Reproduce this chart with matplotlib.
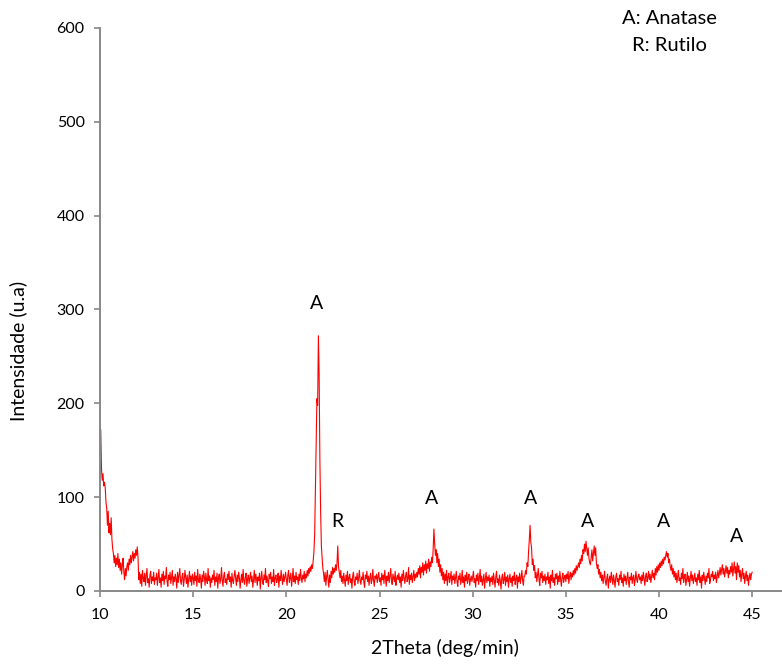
import matplotlib
matplotlib.use('Agg')
import matplotlib.pyplot as plt
import numpy as np

plt.rcParams['font.family'] = ['Lato', 'DejaVu Sans']

# XRD scan, 2theta from 10 to 45 deg, step 0.04 (one row per degree)
start_2theta = 10.0
step_2theta = 0.04
intensity = [
    148, 172, 130, 118, 125, 112, 116, 110, 95, 88, 70, 85, 62, 72, 60, 78, 55, 45, 40, 30, 38, 26, 35, 28, 40,
    25, 34, 22, 30, 18, 28, 35, 20, 12, 24, 16, 26, 30, 22, 34, 28, 38, 30, 36, 42, 32, 40, 35, 44, 38,
    47, 36, 12, 20, 8, 18, 5, 22, 14, 10, 19, 6, 16, 24, 9, 13, 4, 17, 21, 8, 15, 11, 20, 7, 14,
    12, 19, 6, 15, 23, 9, 14, 4, 18, 11, 21, 7, 16, 13, 25, 10, 5, 17, 12, 20, 8, 14, 22, 6, 15,
    10, 18, 13, 3, 20, 9, 16, 24, 11, 7, 15, 19, 5, 12, 22, 14, 8, 17, 4, 13, 21, 10, 16, 6, 18,
    14, 7, 20, 11, 16, 5, 23, 12, 9, 18, 13, 3, 17, 10, 21, 15, 6, 19, 12, 8, 24, 11, 16, 4, 14,
    9, 17, 12, 22, 6, 15, 10, 19, 3, 14, 18, 8, 13, 25, 11, 5, 16, 20, 9, 13, 7, 18, 12, 21, 10,
    15, 4, 19, 11, 8, 16, 22, 13, 6, 17, 10, 20, 14, 3, 12, 18, 9, 23, 11, 7, 15, 19, 5, 13, 17,
    8, 14, 20, 10, 16, 4, 12, 22, 9, 18, 13, 6, 15, 11, 19, 2, 14, 21, 10, 7, 17, 12, 24, 9, 16,
    11, 5, 18, 13, 20, 8, 15, 10, 23, 6, 14, 17, 9, 12, 19, 4, 16, 11, 22, 13, 7, 18, 10, 15, 20,
    12, 6, 17, 22, 9, 14, 19, 5, 13, 24, 10, 16, 8, 20, 12, 15, 7, 18, 11, 23, 14, 9, 17, 13, 21,
    10, 18, 14, 22, 16, 24, 19, 26, 21, 28, 24, 32, 42, 60, 110, 165, 205, 198, 272, 230, 140, 85, 48, 35, 24,
    18, 10, 20, 6, 15, 22, 12, 4, 17, 9, 21, 14, 25, 18, 24, 20, 28, 22, 30, 48, 26, 20, 14, 22, 10,
    16, 8, 19, 12, 5, 17, 11, 21, 7, 14, 18, 9, 13, 3, 16, 20, 10, 6, 15, 12, 19, 8, 14, 22, 11,
    7, 15, 12, 20, 9, 4, 17, 13, 21, 10, 16, 6, 14, 19, 8, 12, 23, 11, 5, 16, 13, 18, 9, 15, 20,
    10, 14, 6, 19, 12, 17, 8, 22, 13, 5, 16, 11, 20, 9, 15, 24, 12, 7, 18, 14, 10, 21, 6, 13, 17,
    12, 19, 9, 15, 4, 18, 11, 22, 14, 8, 16, 20, 10, 13, 25, 7, 17, 12, 19, 9, 15, 22, 11, 18, 14,
    20, 15, 24, 18, 27, 14, 25, 20, 30, 17, 28, 22, 32, 19, 29, 24, 34, 21, 31, 26, 36, 30, 45, 66, 50,
    38, 44, 30, 40, 26, 34, 20, 28, 16, 24, 12, 20, 8, 18, 11, 22, 6, 15, 19, 9, 14, 21, 7, 16, 12,
    18, 8, 14, 21, 10, 5, 16, 12, 19, 7, 13, 22, 9, 15, 4, 17, 11, 20, 8, 14, 18, 6, 12, 16, 10,
    15, 21, 9, 13, 4, 17, 11, 19, 7, 14, 23, 10, 16, 6, 12, 18, 3, 13, 20, 9, 15, 11, 17, 5, 14,
    10, 16, 7, 19, 12, 4, 15, 21, 9, 13, 6, 17, 11, 2, 14, 18, 8, 12, 20, 6, 15, 10, 17, 4, 13,
    18, 9, 14, 5, 16, 11, 20, 7, 13, 17, 3, 15, 10, 19, 8, 14, 22, 11, 6, 16, 16, 22, 18, 30, 26,
    42, 55, 70, 52, 46, 28, 34, 22, 27, 14, 20, 10, 17, 24, 12, 6, 19, 14, 21, 9, 16, 11, 18, 7, 15,
    12, 20, 8, 15, 3, 17, 11, 22, 9, 14, 6, 18, 13, 19, 7, 16, 10, 21, 12, 5, 15, 19, 9, 14, 17,
    10, 18, 13, 21, 8, 16, 20, 12, 19, 15, 22, 17, 24, 19, 27, 22, 26, 30, 25, 34, 29, 38, 32, 44, 40,
    50, 42, 53, 45, 38, 46, 35, 30, 28, 36, 44, 32, 40, 48, 38, 46, 30, 24, 28, 18, 23, 14, 20, 11, 17,
    8, 15, 21, 10, 6, 14, 18, 3, 12, 16, 9, 20, 13, 7, 17, 11, 4, 15, 19, 10, 13, 6, 17, 12, 21,
    9, 14, 5, 18, 11, 16, 7, 13, 20, 10, 4, 15, 12, 19, 8, 14, 17, 6, 11, 21, 13, 9, 16, 18, 12,
    15, 8, 17, 11, 20, 13, 6, 16, 19, 10, 14, 21, 12, 18, 9, 16, 22, 14, 19, 12, 24, 17, 26, 20, 28,
    22, 30, 25, 32, 27, 34, 29, 36, 33, 38, 42, 36, 40, 30, 34, 26, 22, 28, 18, 24, 15, 21, 12, 19, 9,
    16, 22, 11, 14, 7, 19, 13, 24, 9, 15, 18, 6, 12, 20, 10, 16, 5, 14, 21, 11, 17, 8, 13, 19, 10,
    14, 6, 18, 12, 22, 9, 15, 3, 17, 11, 20, 13, 7, 16, 10, 19, 14, 24, 8, 12, 18, 15, 21, 11, 17,
    13, 20, 9, 16, 22, 14, 19, 25, 17, 23, 28, 18, 24, 15, 21, 27, 19, 25, 14, 22, 18, 26, 20, 30, 16,
    23, 31, 19, 26, 12, 30, 20, 27, 15, 22, 10, 18, 24, 13, 19, 8, 16, 21, 11, 17, 6, 14, 19, 12, 18,
    20,
]
two_theta = start_2theta + step_2theta * np.arange(len(intensity))

# peak labels (phase letter, 2theta, height of the label)
peak_labels = ['A', 'R', 'A', 'A', 'A', 'A', 'A']
peak_x = [21.6, 22.72, 27.82, 33.13, 36.19, 40.27, 44.14]
peak_y = [306, 74, 99, 99, 74, 74, 58]

x_ticks = [10, 15, 20, 25, 30, 35, 40, 45]
y_ticks = [0, 100, 200, 300, 400, 500, 600]

fig = plt.figure(figsize=(7.82, 6.65), dpi=100)
ax = fig.add_axes([100/782, 74/665, 682/782, 563/665])

ax.plot(two_theta, intensity, color='#FF0000', lw=0.8)

for lab, px, py in zip(peak_labels, peak_x, peak_y):
    ax.text(px, py, lab, ha='center', va='center', fontsize=14)

ax.set_xlim(10, 46.6)
ax.set_ylim(0, 600)
ax.set_xticks(x_ticks)
ax.set_yticks(y_ticks)

for s in ['top', 'right']:
    ax.spines[s].set_visible(False)
for s in ['left', 'bottom']:
    ax.spines[s].set_color('#888888')
    ax.spines[s].set_linewidth(1.4)

ax.tick_params(axis='x', direction='out', length=4, width=1.2, color='#888888',
               labelsize=11.5, pad=8)
ax.tick_params(axis='y', direction='out', length=4, width=1.2, color='#888888',
               labelsize=11.5, pad=7)

ax.set_xlabel('2Theta (deg/min)', fontsize=14, va='center')
ax.xaxis.set_label_coords(0.506, -0.101)
ax.set_ylabel('Intensidade (u.a)', fontsize=14, va='center')
ax.yaxis.set_label_coords(-0.12, 0.426)

fig.text(669/782, 1 - 32/665, 'A: Anatase\nR: Rutilo', ha='center', va='center',
         multialignment='center', fontsize=14.5, linespacing=1.7)

fig.savefig('out.png', dpi=100)
